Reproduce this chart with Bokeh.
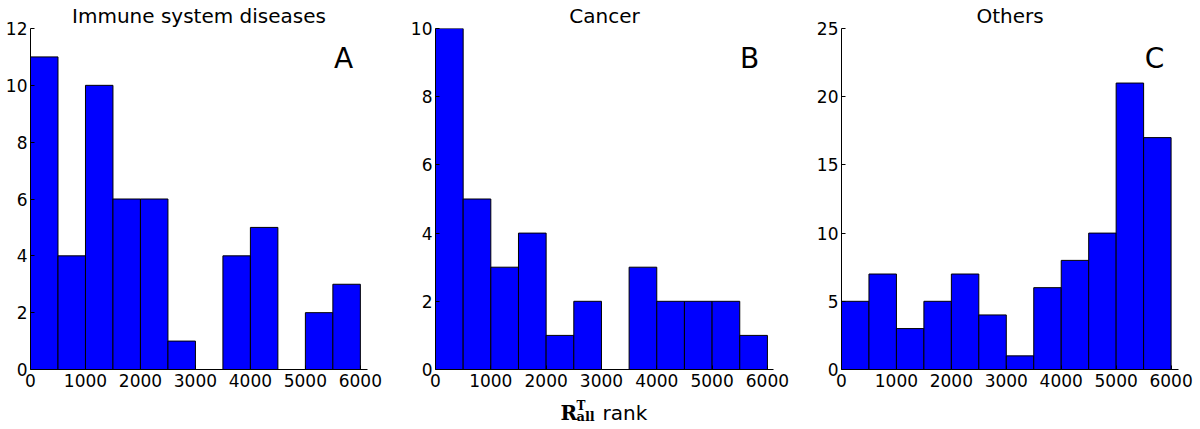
from bokeh.plotting import figure
from bokeh.layouts import row, column
from bokeh.models import Range1d, Label, FixedTicker
from bokeh.core.properties import value
from bokeh.embed import file_html
from bokeh.resources import INLINE

# ---- data ----
bin_edges = [0, 500, 1000, 1500, 2000, 2500, 3000, 3500, 4000, 4500, 5000, 5500, 6000]
immune_counts = [11, 4, 10, 6, 6, 1, 0, 4, 5, 0, 2, 3]
cancer_counts = [10, 5, 3, 4, 1, 2, 0, 3, 2, 2, 2, 1]
others_counts = [5, 7, 3, 5, 7, 4, 1, 6, 8, 10, 21, 17]
panel_titles = ["Immune system diseases", "Cancer", "Others"]
panel_letters = ["A", "B", "C"]
x_ticks = [0, 1000, 2000, 3000, 4000, 5000, 6000]
y_ticks_a = [0, 2, 4, 6, 8, 10, 12]
y_ticks_b = [0, 2, 4, 6, 8, 10]
y_ticks_c = [0, 5, 10, 15, 20, 25]

FONT = "DejaVu Sans"
SERIF = "DejaVu Serif"

# layout constants (pixels)
TOP_H = 28
FRAME_H = 341
AXIS_H = 26
ROW_H = TOP_H + FRAME_H + AXIS_H
BOTTOM_H = 26
PANELS = [  # left border, frame width, right border
    (30, 337, 33),
    (35, 338, 27),
    (41, 337, 22),
]
TOTAL_W = sum(l + w + r for l, w, r in PANELS)


def make_panel(counts, title, letter, xmax, ymax, yticks, geom):
    left, fw, right = geom
    p = figure(title=title, width=left + fw + right, height=ROW_H,
               x_range=Range1d(0, xmax), y_range=Range1d(0, ymax),
               output_backend="svg", toolbar_location=None,
               min_border_left=left, min_border_right=right,
               min_border_top=TOP_H, min_border_bottom=AXIS_H)
    p.title.align = "center"
    p.title.text_font = FONT
    p.title.text_font_size = "20px"
    p.title.text_font_style = "normal"
    p.title.text_color = "black"
    p.title.standoff = 2
    p.quad(left=bin_edges[:-1], right=bin_edges[1:], bottom=0, top=counts,
           fill_color="#0000ff", line_color="black", line_width=1)
    p.xgrid.visible = False
    p.ygrid.visible = False
    p.outline_line_color = None
    p.background_fill_color = "white"
    p.border_fill_color = "white"
    p.xaxis.ticker = FixedTicker(ticks=x_ticks)
    p.yaxis.ticker = FixedTicker(ticks=yticks)
    for ax in (p.xaxis[0], p.yaxis[0]):
        ax.minor_tick_line_color = None
        ax.major_tick_in = 4
        ax.major_tick_out = 0
        ax.major_tick_line_color = "black"
        ax.axis_line_color = "black"
        ax.axis_line_width = 1
        ax.axis_label_standoff = 0
        ax.major_label_text_font = FONT
        ax.major_label_text_font_size = "17px"
        ax.major_label_text_color = "black"
    p.xaxis.major_label_standoff = 4
    p.yaxis.major_label_standoff = 3
    p.add_layout(Label(x=xmax, y=ymax, x_offset=-24, y_offset=-30, text=letter,
                       text_align="center", text_baseline="alphabetic",
                       text_font=FONT, text_font_size="28px", text_color="black"))
    return p


def strip(height):
    s = figure(title=None, frame_width=TOTAL_W, frame_height=height,
               x_range=Range1d(0, TOTAL_W), y_range=Range1d(0, height),
               output_backend="svg", toolbar_location=None, min_border=0,
               x_axis_type=None, y_axis_type=None)
    s.xgrid.visible = False
    s.ygrid.visible = False
    s.outline_line_color = None
    s.border_fill_color = "white"
    s.background_fill_color = "white"
    return s


pa = make_panel(immune_counts, panel_titles[0], panel_letters[0], 6130, 12, y_ticks_a, PANELS[0])
pb = make_panel(cancer_counts, panel_titles[1], panel_letters[1], 6110, 10, y_ticks_b, PANELS[1])
pc = make_panel(others_counts, panel_titles[2], panel_letters[2], 6135, 25, y_ticks_c, PANELS[2])

# centre of middle frame in page pixels
cb = PANELS[0][0] + PANELS[0][1] + PANELS[0][2] + PANELS[1][0] + PANELS[1][1] / 2

# bottom strip with x-axis label R^T_all rank under the middle panel
bot = strip(BOTTOM_H)
bot.text(x=[cb - 44], y=[9], text=["R"], text_font=value(SERIF), text_font_style="bold",
         text_font_size="20px", text_align="left", text_baseline="alphabetic", text_color="black")
bot.text(x=[cb - 28], y=[16], text=["T"], text_font=value(SERIF), text_font_style="bold",
         text_font_size="12px", text_align="left", text_baseline="alphabetic", text_color="black")
bot.text(x=[cb - 28], y=[5], text=["all"], text_font=value(SERIF), text_font_style="bold",
         text_font_size="13px", text_align="left", text_baseline="alphabetic", text_color="black")
bot.text(x=[cb - 2], y=[9], text=["rank"], text_font=value(FONT),
         text_font_size="20px", text_align="left", text_baseline="alphabetic", text_color="black")

layout = column(row(pa, pb, pc), bot)
open("out.html", "w").write(file_html(layout, INLINE))
